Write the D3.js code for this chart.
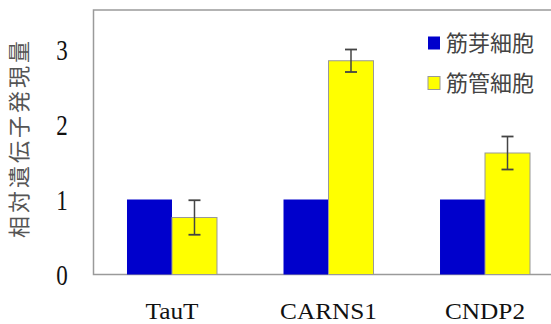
<!DOCTYPE html>
<html>
<head>
<meta charset="utf-8">
<script src="https://cdn.jsdelivr.net/npm/d3@7"></script>
<style>
  body { margin: 0; background: #fff; }
</style>
</head>
<body>
<div id="viz"></div>
<script>
const genes = ['TauT', 'CARNS1', 'CNDP2'];
const seriesNames = ['筋芽細胞', '筋管細胞'];
const myoblast = [1.0, 1.0, 1.0];
const myotube = [0.76, 2.85, 1.62];
const myotubeErr = [0.23, 0.15, 0.22];
const yTicks = [0, 1, 2, 3];
const yTitle = '相対遺伝子発現量';

const width = 551;
const height = 324;
const plot = { left: 93.5, right: 563.5, top: 10, bottom: 274.5 };

const blue = '#0000cc';
const yellow = '#ffff00';
const serif = '"Liberation Serif", "DejaVu Serif", serif';
const cjk = '"Noto Sans CJK JP", sans-serif';

const svg = d3.select('#viz').append('svg')
    .attr('width', width)
    .attr('height', height);

const y = d3.scaleLinear()
    .domain([0, 3])
    .range([plot.bottom, 49.5]);

const x0 = d3.scaleBand()
    .domain(genes)
    .range([plot.left, plot.right])
    .paddingInner(0.425)
    .paddingOuter(0.214);

const x1 = d3.scaleBand()
    .domain(seriesNames)
    .range([0, x0.bandwidth()]);

// frame
svg.append('rect')
    .attr('x', plot.left)
    .attr('y', plot.top)
    .attr('width', plot.right - plot.left)
    .attr('height', plot.bottom - plot.top)
    .attr('fill', 'none')
    .attr('stroke', '#9a9a9a')
    .attr('stroke-width', 1.5);

const groups = svg.append('g').selectAll('g')
    .data(genes)
    .enter().append('g')
    .attr('transform', d => 'translate(' + x0(d) + ',0)');

groups.append('rect')
    .attr('x', x1(seriesNames[0]))
    .attr('width', x1.bandwidth())
    .attr('y', (d, i) => y(myoblast[i]))
    .attr('height', (d, i) => plot.bottom - y(myoblast[i]))
    .attr('fill', blue);

groups.append('rect')
    .attr('x', x1(seriesNames[1]))
    .attr('width', x1.bandwidth())
    .attr('y', (d, i) => y(myotube[i]))
    .attr('height', (d, i) => plot.bottom - y(myotube[i]))
    .attr('fill', yellow)
    .attr('stroke', '#999')
    .attr('stroke-width', 1);

// error bars
const ex = x1(seriesNames[1]) + x1.bandwidth() / 2;
const cap = 6;
groups.append('line')
    .attr('x1', ex).attr('x2', ex)
    .attr('y1', (d, i) => y(myotube[i] + myotubeErr[i]))
    .attr('y2', (d, i) => y(myotube[i] - myotubeErr[i]))
    .attr('stroke', '#444').attr('stroke-width', 1.5);
groups.append('line')
    .attr('x1', ex - cap).attr('x2', ex + cap)
    .attr('y1', (d, i) => y(myotube[i] + myotubeErr[i]))
    .attr('y2', (d, i) => y(myotube[i] + myotubeErr[i]))
    .attr('stroke', '#444').attr('stroke-width', 1.8);
groups.append('line')
    .attr('x1', ex - cap).attr('x2', ex + cap)
    .attr('y1', (d, i) => y(myotube[i] - myotubeErr[i]))
    .attr('y2', (d, i) => y(myotube[i] - myotubeErr[i]))
    .attr('stroke', '#444').attr('stroke-width', 1.8);

// y tick labels
svg.append('g').selectAll('text')
    .data(yTicks)
    .enter().append('text')
    .attr('transform', d => 'translate(62,' + y(d) + ') scale(1,1.3)')
    .attr('text-anchor', 'middle')
    .attr('dy', '0.35em')
    .style('font-family', serif)
    .style('font-size', '23px')
    .attr('fill', '#111')
    .text(d => d);

// category labels
svg.append('g').selectAll('text')
    .data(genes)
    .enter().append('text')
    .attr('transform', d => 'translate(' + (x0(d) + x0.bandwidth() / 2) + ',319) scale(1.1,1)')
    .attr('text-anchor', 'middle')
    .style('font-family', serif)
    .style('font-size', '23px')
    .attr('fill', '#111')
    .text(d => d);

// y title
svg.append('text')
    .attr('transform', 'translate(19,138) rotate(-90)')
    .attr('text-anchor', 'middle')
    .attr('dy', '0.35em')
    .style('font-family', cjk)
    .style('font-size', '22px')
    .style('letter-spacing', '3px')
    .attr('fill', '#555')
    .text(yTitle);

// legend
const legend = svg.append('g').selectAll('g')
    .data(seriesNames)
    .enter().append('g')
    .attr('transform', (d, i) => 'translate(428,' + (43 + i * 40) + ')');

legend.append('rect')
    .attr('x', 0)
    .attr('y', -6.5)
    .attr('width', 12)
    .attr('height', 13)
    .attr('fill', (d, i) => i === 0 ? blue : yellow)
    .attr('stroke', (d, i) => i === 0 ? 'none' : '#999');

legend.append('text')
    .attr('x', 18)
    .attr('dy', '0.35em')
    .style('font-family', cjk)
    .style('font-size', '22px')
    .attr('fill', '#444')
    .text(d => d);
</script>
</body>
</html>
